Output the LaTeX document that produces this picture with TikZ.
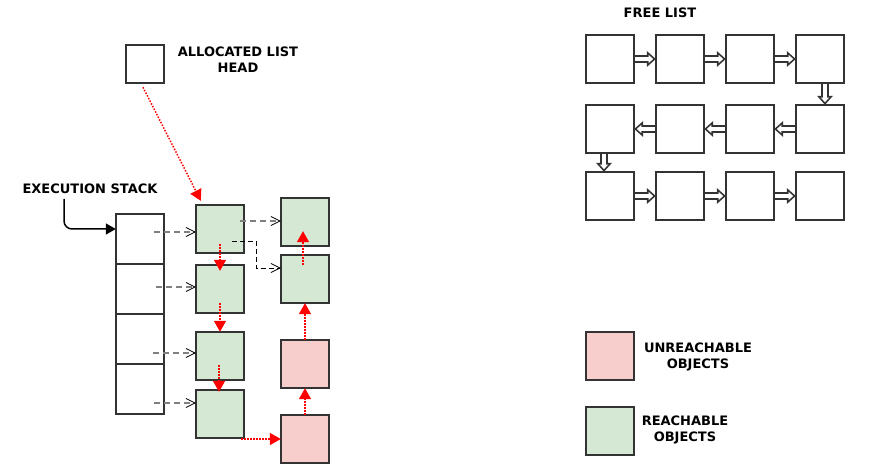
\documentclass[tikz,border=0pt]{standalone}
\usepackage{fontspec}
\setmainfont{DejaVu Sans}
\usepackage{tikz}
\usetikzlibrary{arrows.meta,positioning,calc}
\definecolor{bwblack}{RGB}{0,0,0}
\definecolor{bwdark}{RGB}{51,51,51}
\definecolor{bwgray}{RGB}{128,128,128}
\definecolor{reachgreen}{RGB}{213,232,212}
\definecolor{unreachpink}{RGB}{248,206,204}

\begin{document}
\begin{tikzpicture}[x=1pt,y=-1pt,
    box/.style={draw=bwdark,line width=1.6pt,minimum size=48.4pt,
                inner sep=0pt,outer sep=0pt},
    cell/.style={box,minimum height=50pt},
    reach/.style={box,fill=reachgreen},
    unreach/.style={box,fill=unreachpink},
    lbl/.style={font=\fontsize{13}{16}\selectfont\bfseries,align=center,
                text=bwblack},
    link/.style={red,line width=1.5pt,dash pattern=on 1.5pt off 1.5pt,
                 -{Triangle[length=11pt,width=12pt]}},
    ref/.style={bwgray,line width=1.6pt,dash pattern=on 6pt off 4pt,
                -{Straight Barb[length=9pt,width=9pt,line width=0.8pt,color=bwblack]}},
    refthin/.style={ref,bwblack,line width=0.8pt,dash pattern=on 5pt off 3pt},
    stackarr/.style={bwblack,line width=1.5pt,rounded corners=8pt,
                     -{Triangle[length=10pt,width=11pt]}},
    hollow/.style={draw=bwdark,line width=8pt,shorten <=0.8pt,
                   -{Triangle[length=9pt,width=16pt,line width=0pt]},
                   postaction={draw=white,line width=4.6pt,shorten >=2.6pt,
                   -{Triangle[length=4.6pt,width=8.2pt,line width=0pt]}}}
  ]
    \path[use as bounding box,fill=white] (0,0) rectangle (887,476);

    % allocated list
    \node[box,minimum size=38.4pt] (head) at (145,64) {};
    \node[lbl] (headlbl) at (238,60) {ALLOCATED LIST\\HEAD};

    % execution stack
    \node[lbl] (stacklbl) at (90,189) {EXECUTION STACK};
    \node[cell] (s1) at (140,239) {};
    \node[cell,below=0pt of s1] (s2) {};
    \node[cell,below=0pt of s2] (s3) {};
    \node[cell,below=0pt of s3] (s4) {};

    % heap objects
    \node[reach] (a1) at (220,229) {};
    \node[reach,below=11.6pt of a1] (a2) {};
    \node[reach,below=18.6pt of a2] (a3) {};
    \node[reach,below=9.6pt of a3] (a4) {};
    \node[reach] (b1) at (305,222) {};
    \node[reach,below=8.6pt of b1] (b2) {};
    \node[unreach,below=36.6pt of b2] (b3) {};
    \node[unreach,below=26.6pt of b3] (b4) {};

    \coordinate (stacktip) at (64,199);
    \draw[stackarr] (stacktip) |- ([yshift=10pt]s1.west);

    \draw[ref] ([xshift=-10pt,yshift=7pt]s1.east) -- ([yshift=-3pt]a1.west);
    \draw[ref] ([xshift=-8pt,yshift=2pt]s2.east) -- ([yshift=2pt]a2.west);
    \draw[ref] ([xshift=-11pt,yshift=-14pt]s3.east) -- ([yshift=3pt]a3.west);
    \draw[ref] ([xshift=-10pt,yshift=-14pt]s4.east) -- ([yshift=11pt]a4.west);
    \draw[ref] ([xshift=-4pt,yshift=8pt]a1.east) -- ([yshift=1pt]b1.west);
    \draw[refthin] ([xshift=-12pt,yshift=-12pt]a1.east) -- ++(24,0)
      |- ([yshift=11pt]b2.west);

    \draw[link] ([shift={(-2pt,-4pt)}]head.south) -- ([shift={(5pt,4pt)}]a1.north west);
    \draw[link] ([yshift=9pt]a1.south) -- ([yshift=-6pt]a2.north);
    \draw[link] ([yshift=10pt]a2.south) -- (a3.north);
    \draw[link] ([xshift=-1pt,yshift=15pt]a3.south) -- ([xshift=-1pt,yshift=-2pt]a4.north);
    \draw[link] ([xshift=-3pt]a4.south east |- b4.west) -- (b4.west);
    \draw[link] (b4.north) -- (b3.south);
    \draw[link] (b3.north) -- (b2.south);
    \draw[link] ([xshift=-2pt,yshift=-10pt]b2.north) -- ([xshift=-2pt,yshift=15pt]b1.south);

    % free list
    \node[lbl] (freelbl) at (660,13) {FREE LIST};
    \node[box] (f1) at (610,59) {};
    \node[box,right=21.6pt of f1] (f2) {};
    \node[box,right=21.6pt of f2] (f3) {};
    \node[box,right=21.6pt of f3] (f4) {};
    \node[box,below=21.6pt of f1] (f5) {};
    \node[box,right=21.6pt of f5] (f6) {};
    \node[box,right=21.6pt of f6] (f7) {};
    \node[box,right=21.6pt of f7] (f8) {};
    \node[box,below=18.6pt of f5] (f9) {};
    \node[box,right=21.6pt of f9] (f10) {};
    \node[box,right=21.6pt of f10] (f11) {};
    \node[box,right=21.6pt of f11] (f12) {};

    \draw[hollow] (f1) -- (f2);
    \draw[hollow] (f2) -- (f3);
    \draw[hollow] (f3) -- (f4);
    \draw[hollow] ([xshift=5pt]f4.south) -- ([xshift=5pt]f8.north);
    \draw[hollow] (f8) -- (f7);
    \draw[hollow] (f7) -- (f6);
    \draw[hollow] (f6) -- (f5);
    \draw[hollow] ([xshift=-6pt]f5.south) -- ([xshift=-6pt]f9.north);
    \draw[hollow] (f9) -- (f10);
    \draw[hollow] (f10) -- (f11);
    \draw[hollow] (f11) -- (f12);

    % legend
    \node[unreach] (unreachkey) at (610,356) {};
    \node[reach,below=26.6pt of unreachkey] (reachkey) {};
    \node[lbl] (unreachlbl) at (698,357) {UNREACHABLE\\OBJECTS};
    \node[lbl] (reachlbl) at (685,430) {REACHABLE\\OBJECTS};
  \end{tikzpicture}
\end{document}
